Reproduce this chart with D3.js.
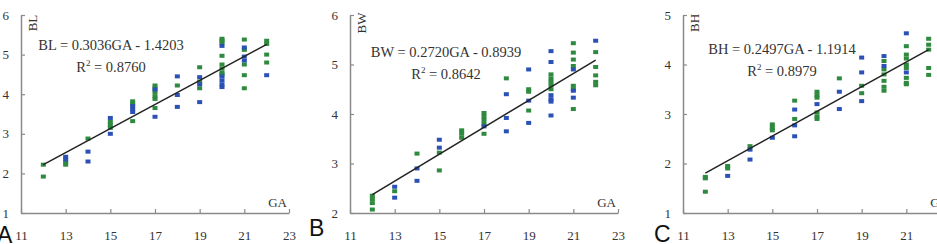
<!DOCTYPE html>
<html>
<head>
<meta charset="utf-8">
<script src="https://d3js.org/d3.v7.min.js"></script>
<style>
  body { margin: 0; background: #fff; }
  text { font-family: "Liberation Serif", "DejaVu Serif", serif; fill: #333; }
</style>
</head>
<body>
<div id="chart"></div>
<script>
// x ticks (gestational age)
var gaTicks = [11, 13, 15, 17, 19, 21, 23];

// panel A : BL vs GA  [GA, value]
var blGreen = [[12,2.22],[12,1.92],[13,2.22],[13,2.28],[14,2.88],[15,3.3],[15,3.22],[15,3.15],
  [16,3.82],[16,3.75],[16,3.32],[17,4.22],[17,4.15],[17,4.05],[17,3.95],[17,3.88],[17,3.65],
  [18,4.22],[19,4.68],[19,4.32],[19,4.15],[20,5.4],[20,5.35],[20,5.3],[20,4.97],[20,4.75],
  [20,4.65],[20,4.55],[20,4.5],[21,5.38],[21,5.12],[21,4.75],[21,4.48],[21,4.15],
  [22,5.35],[22,5.27],[22,5.0],[22,4.8]];
var blBlue = [[13,2.42],[13,2.35],[14,2.55],[14,2.3],[15,3.4],[15,3.0],[16,3.7],[16,3.62],
  [16,3.55],[17,4.12],[17,3.43],[18,4.45],[18,3.98],[18,3.68],[19,4.43],[19,4.25],[19,3.8],
  [20,5.22],[20,4.45],[20,4.35],[20,4.25],[20,4.18],[21,5.18],[21,4.95],[21,4.85],[22,4.48]];

// panel B : BW vs GA
var bwGreen = [[12,2.35],[12,2.28],[12,2.2],[12,2.07],[13,2.44],[14,3.2],[15,3.22],[15,2.86],
  [16,3.67],[16,3.6],[16,3.52],[17,4.02],[17,3.95],[17,3.88],[17,3.8],[17,3.6],[18,4.72],
  [19,4.5],[19,4.45],[19,4.07],[20,4.8],[20,4.72],[20,4.65],[20,4.58],[20,4.5],
  [21,5.43],[21,5.24],[21,5.1],[21,4.97],[21,4.57],[21,4.5],[21,4.1],
  [22,5.25],[22,4.95],[22,4.78],[22,4.65],[22,4.58]];
var bwBlue = [[13,2.53],[13,2.31],[14,2.9],[14,2.65],[15,3.48],[15,3.32],[17,3.75],[18,4.4],
  [18,3.92],[18,3.65],[19,4.9],[19,4.27],[19,3.82],[20,5.27],[20,5.05],[20,4.38],[20,4.3],
  [20,4.25],[20,3.97],[21,4.9],[21,4.47],[21,4.33],[22,5.48]];

// panel C : BH vs GA
var bhGreen = [[12,1.73],[12,1.7],[12,1.43],[13,1.95],[13,1.9],[14,2.35],[15,2.79],[15,2.72],
  [15,2.67],[16,3.27],[16,2.9],[17,3.45],[17,3.38],[17,3.33],[17,3.03],[17,2.95],[17,2.9],
  [18,3.72],[19,3.57],[19,3.42],[20,4.07],[20,3.9],[20,3.8],[20,3.67],[20,3.55],[20,3.47],
  [21,4.37],[21,4.2],[21,4.12],[21,4.0],[21,3.93],[21,3.73],[21,3.63],[21,3.6],
  [22,4.52],[22,4.4],[22,4.3],[22,3.93],[22,3.79]];
var bhBlue = [[13,1.75],[14,2.28],[14,2.08],[15,2.52],[16,3.09],[16,2.77],[16,2.55],[17,3.2],
  [18,3.45],[18,3.1],[19,4.14],[19,3.84],[19,3.26],[20,4.17],[20,3.97],[21,4.63],[21,3.84]];

// regression [slope, intercept, R2]
var fitA = [0.3036, -1.4203, "0.8760"];
var fitB = [0.2720, -0.8939, "0.8642"];
var fitC = [0.2497, -1.1914, "0.8979"];

var green = "#2e8a3e", blue = "#2b51b6";

var svg = d3.select("#chart").append("svg")
  .attr("width", 937).attr("height", 244);

var panels = [
  {letter: "A", name: "BL", ax: 21, yDom: [1, 6], yTicks: [1,2,3,4,5,6], g: blGreen, b: blBlue, fit: fitA,
   eqX: 111, eqY: 50, lx: -3, ly: 243},
  {letter: "B", name: "BW", ax: 350, yDom: [2, 6], yTicks: [2,3,4,5,6], g: bwGreen, b: bwBlue, fit: fitB,
   eqX: 446, eqY: 57, lx: 309, ly: 236},
  {letter: "C", name: "BH", ax: 683, yDom: [1, 5], yTicks: [1,2,3,4,5], g: bhGreen, b: bhBlue, fit: fitC,
   eqX: 782, eqY: 54, lx: 654, ly: 242}
];

panels.forEach(function(p) {
  var x = d3.scaleLinear().domain([11, 23]).range([p.ax, p.ax + 268]);
  var y = d3.scaleLinear().domain(p.yDom).range([213, 15]);
  var g = svg.append("g");

  // axes
  var xa = g.append("g").attr("transform", "translate(0,213)")
    .call(d3.axisBottom(x).tickValues(gaTicks).tickSizeInner(-4).tickSizeOuter(0).tickPadding(18));
  var ya = g.append("g").attr("transform", "translate(" + p.ax + ",0)")
    .call(d3.axisLeft(y).tickValues(p.yTicks).tickSizeInner(-4).tickSizeOuter(0).tickPadding(12).tickFormat(d3.format("d")));
  [xa, ya].forEach(function(a) {
    a.select(".domain").attr("stroke", "#8a8a8a").attr("stroke-width", 1.5);
    a.selectAll(".tick line").attr("stroke", "#8a8a8a").attr("stroke-width", 1.2);
    a.selectAll(".tick text").attr("fill", "#333").style("font-family", "Liberation Serif")
      .style("font-size", "13px");
  });

  // points
  g.selectAll(".pg").data(p.g).enter().append("rect")
    .attr("x", function(d) { return x(d[0]) - 2.5; })
    .attr("y", function(d) { return y(d[1]) - 2; })
    .attr("width", 5).attr("height", 4).attr("fill", green);
  g.selectAll(".pb").data(p.b).enter().append("rect")
    .attr("x", function(d) { return x(d[0]) - 2.5; })
    .attr("y", function(d) { return y(d[1]) - 2; })
    .attr("width", 5).attr("height", 4).attr("fill", blue);

  // fitted line from GA 12 to 22
  var line = d3.line().x(function(d) { return x(d); })
    .y(function(d) { return y(p.fit[0] * d + p.fit[1]); });
  g.append("path").datum([12, 22]).attr("d", line)
    .attr("stroke", "#222").attr("stroke-width", 1.5).attr("fill", "none");

  // labels
  g.append("text").attr("transform", "translate(" + (p.ax + 16) + ",23) rotate(-90)")
    .attr("text-anchor", "middle").style("font-size", "13px").text(p.name);
  g.append("text").attr("x", x(23) - 2).attr("y", 207).attr("text-anchor", "end")
    .style("font-size", "13px").text("GA");

  g.append("text").attr("x", p.eqX).attr("y", p.eqY).attr("text-anchor", "middle")
    .style("font-size", "14.5px")
    .text(p.name + " = " + p.fit[0].toFixed(4) + "GA - " + Math.abs(p.fit[1]).toFixed(4));
  var r = g.append("text").attr("x", p.eqX).attr("y", p.eqY + 22).attr("text-anchor", "middle")
    .style("font-size", "14.5px");
  r.append("tspan").text("R");
  r.append("tspan").attr("dy", -6).style("font-size", "9px").text("2");
  r.append("tspan").attr("dy", 6).text(" = " + p.fit[2]);

  g.append("text").attr("x", p.lx).attr("y", p.ly)
    .style("font-family", "Liberation Sans, Arial, sans-serif").style("font-size", "23px")
    .style("fill", "#111").text(p.letter);
});
</script>
</body>
</html>
